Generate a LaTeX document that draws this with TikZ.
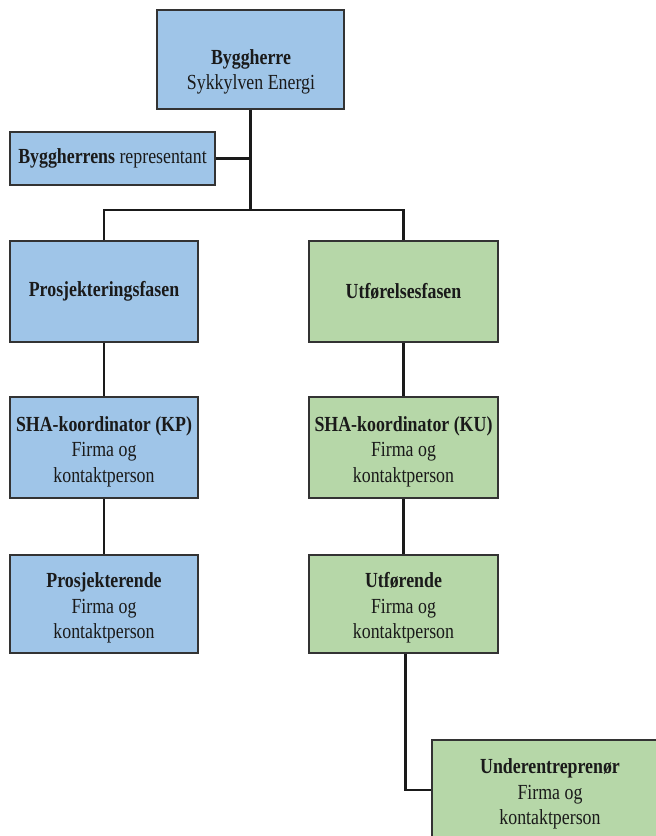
\documentclass[tikz,border=0pt]{standalone}
\usepackage{fontspec}
\setmainfont{Liberation Serif}[FakeStretch=0.83]
\definecolor{boxblue}{HTML}{9FC5E8}
\definecolor{boxgreen}{HTML}{B6D7A8}
\definecolor{boxline}{HTML}{333333}
\definecolor{inktext}{HTML}{1A1A1A}
\begin{document}
\begin{tikzpicture}[x=1pt,y=-1pt,
  orgbox/.style={draw=boxline, line width=1.4pt, rectangle, inner sep=0pt,
    align=center, text=inktext, font=\fontsize{21.5}{25.5}\selectfont},
  bluebox/.style={orgbox, fill=boxblue, minimum width=188pt, minimum height=101pt},
  greenbox/.style={orgbox, fill=boxgreen, minimum width=189pt, minimum height=101pt},
  threeline/.style={text height=74pt},
  plaintext/.style={inner sep=0pt, align=center, text=inktext, font=\fontsize{21.5}{25.5}\selectfont},
  link/.style={line width=2.3pt, draw=inktext}
]
\path[use as bounding box] (0,0) rectangle (656,836);
\clip (0,0) rectangle (656,836);

% client and its representative
\node[orgbox, fill=boxblue, minimum width=187pt, minimum height=99pt] (bh) at (250.5,59.5) {};
\node[plaintext] (bhtxt) at (251,72) {\textbf{Byggherre}\\Sykkylven Energi};
\node[orgbox, fill=boxblue, minimum width=205pt, minimum height=53pt] (rep) at (112.5,158.5)
  {\textbf{Byggherrens} representant};

% the two phases
\node[bluebox] (prosj) at (104,291.5) {\textbf{Prosjekteringsfasen}};
\node[greenbox] (utf) at (403.5,291.5) {\textbf{Utførelsesfasen}};

% coordinators
\node[bluebox, threeline] (kp) at (104,447.5) {\textbf{SHA-koordinator (KP)}\\Firma og\\kontaktperson};
\node[greenbox, threeline] (ku) at (403.5,447.5) {\textbf{SHA-koordinator (KU)}\\Firma og\\kontaktperson};

% designers and contractors
\node[bluebox, threeline, minimum height=98pt] (pro) at (104,604) {\textbf{Prosjekterende}\\Firma og\\kontaktperson};
\node[greenbox, threeline, minimum height=98pt] (utfr) at (403.5,604) {\textbf{Utførende}\\Firma og\\kontaktperson};
\node[orgbox, threeline, fill=boxgreen, minimum width=236pt, minimum height=100pt] (ue) at (550,790)
  {\textbf{Underentreprenør}\\Firma og\\kontaktperson};

% connectors
\coordinate (split) at (250.5,210);
\draw[link] (bh.south) -- (split);
\draw[link] (rep.east) -- (rep.east -| bh.south);
\draw[link] (prosj.north) |- (split) -| (utf.north);
\draw[link] (prosj.south) -- (kp.north);
\draw[link] (kp.south) -- (pro.north);
\draw[link] (utf.south) -- (ku.north);
\draw[link] (ku.south) -- (utfr.north);
\draw[link] ([xshift=2pt]utfr.south) |- (ue.west);
\end{tikzpicture}
\end{document}
